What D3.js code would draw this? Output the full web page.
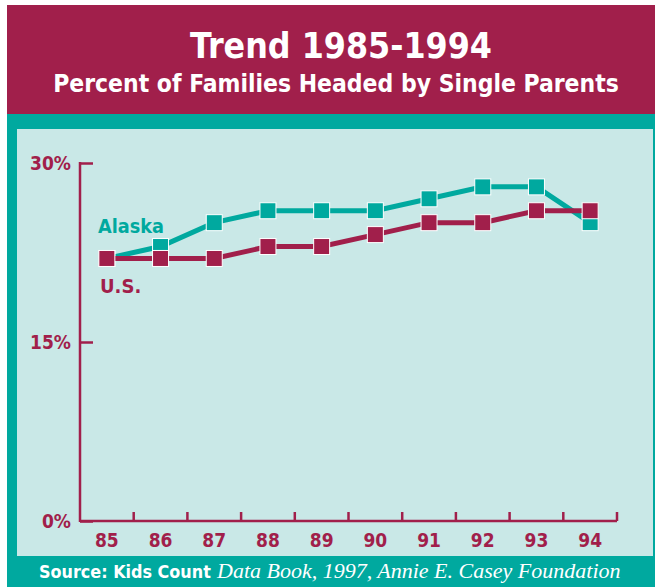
<!DOCTYPE html>
<html>
<head>
<meta charset="utf-8">
<script src="https://cdn.jsdelivr.net/npm/d3@7"></script>
<style>
  body { margin: 0; background: #fff; }
  svg { display: block; }
  .cond { font-family: "Liberation Sans Narrow", "DejaVu Sans Condensed", "Open Sans", sans-serif; font-weight: bold; }
</style>
</head>
<body>
<div id="chart"></div>
<script>
var W = 655, H = 587;
var maroon = "#a11f4b", teal = "#00a99f", panel = "#c9e8e7";

// data
var years = ["85", "86", "87", "88", "89", "90", "91", "92", "93", "94"];
var alaska = [22, 23, 25, 26, 26, 26, 27, 28, 28, 25];
var us = [22, 22, 22, 23, 23, 24, 25, 25, 26, 26];
var yTicks = [0, 15, 30];

var svg = d3.select("#chart").append("svg")
  .attr("width", W)
  .attr("height", H);

// frame
svg.append("rect").attr("x", 7).attr("y", 5).attr("width", W - 7).attr("height", 109).attr("fill", maroon);
svg.append("rect").attr("x", 7).attr("y", 114).attr("width", W - 7).attr("height", H - 114).attr("fill", teal);
svg.append("rect").attr("x", 17).attr("y", 129).attr("width", 636).attr("height", 427).attr("fill", panel);

// shrink a text's font until it fits the given width
function fitText(sel, width) {
  var node = sel.node();
  var size = +sel.attr("font-size");
  var len = node.getComputedTextLength();
  if (len > width) sel.attr("font-size", size * width / len);
  return sel;
}

// titles
fitText(svg.append("text").attr("class", "cond")
  .attr("x", 341).attr("y", 58)
  .attr("text-anchor", "middle")
  .attr("fill", "#fff")
  .attr("font-size", 39)
  .text("Trend 1985-1994"), 302);
fitText(svg.append("text").attr("class", "cond")
  .attr("x", 336).attr("y", 92)
  .attr("text-anchor", "middle")
  .attr("fill", "#fff")
  .attr("font-size", 27)
  .text("Percent of Families Headed by Single Parents"), 566);

// scales
var x = d3.scaleBand().domain(years).range([80, 617]);
var y = d3.scaleLinear().domain([0, 30]).range([521, 163]);

// y axis
var yAxis = d3.axisRight(y).tickValues(yTicks).tickSize(13).tickFormat(function(d) { return ""; });
var gy = svg.append("g").attr("transform", "translate(80,0)").call(yAxis);
gy.select(".domain").remove();
gy.selectAll(".tick line").attr("stroke", maroon).attr("stroke-width", 2.5);
svg.append("line").attr("x1", 80).attr("x2", 80).attr("y1", y(30) - 1).attr("y2", y(0) + 1)
  .attr("stroke", maroon).attr("stroke-width", 2.5);
svg.selectAll(".ylab").data(yTicks).enter().append("text")
  .attr("class", "cond ylab")
  .attr("x", 71).attr("y", function(d) { return y(d) + 7; })
  .attr("text-anchor", "end")
  .attr("fill", maroon)
  .attr("font-size", 19)
  .text(function(d) { return d + "%"; });

// x axis
svg.append("line").attr("x1", 80).attr("x2", 617).attr("y1", y(0)).attr("y2", y(0))
  .attr("stroke", maroon).attr("stroke-width", 2.5);
svg.selectAll(".xtick").data(years).enter().append("line")
  .attr("class", "xtick")
  .attr("x1", function(d) { return x(d) + x.bandwidth(); })
  .attr("x2", function(d) { return x(d) + x.bandwidth(); })
  .attr("y1", y(0)).attr("y2", y(0) - 9)
  .attr("stroke", maroon).attr("stroke-width", 2.5);
svg.selectAll(".xlab").data(years).enter().append("text")
  .attr("class", "cond xlab")
  .attr("x", function(d) { return x(d) + x.bandwidth() / 2; })
  .attr("y", 547)
  .attr("text-anchor", "middle")
  .attr("fill", maroon)
  .attr("font-size", 19)
  .text(function(d) { return d; });

// series
var line = d3.line()
  .x(function(d, i) { return x(years[i]) + x.bandwidth() / 2; })
  .y(function(d) { return y(d); });

function drawSeries(vals, color) {
  svg.append("path").datum(vals)
    .attr("d", line)
    .attr("fill", "none")
    .attr("stroke", color)
    .attr("stroke-width", 5);
  svg.selectAll(null).data(vals).enter().append("rect")
    .attr("x", function(d, i) { return x(years[i]) + x.bandwidth() / 2 - 8; })
    .attr("y", function(d) { return y(d) - 8; })
    .attr("width", 16).attr("height", 16)
    .attr("fill", color)
    .attr("stroke", "#fff")
    .attr("stroke-width", 1);
}
drawSeries(alaska, teal);
drawSeries(us, maroon);

// series labels
fitText(svg.append("text").attr("class", "cond")
  .attr("x", 98).attr("y", 233)
  .attr("fill", teal).attr("font-size", 20)
  .text("Alaska"), 66);
svg.append("text").attr("class", "cond")
  .attr("x", 100).attr("y", 293)
  .attr("fill", maroon).attr("font-size", 20)
  .text("U.S.");

// source
fitText(svg.append("text").attr("class", "cond")
  .attr("x", 39).attr("y", 578)
  .attr("fill", "#fff")
  .attr("font-size", 19)
  .text("Source: Kids Count"), 172);
svg.append("text")
  .attr("x", 217).attr("y", 578)
  .attr("fill", "#fff")
  .attr("font-family", "'Liberation Serif', 'DejaVu Serif', serif")
  .attr("font-style", "italic")
  .attr("font-size", 22)
  .text("Data Book, 1997, Annie E. Casey Foundation");
</script>
</body>
</html>
